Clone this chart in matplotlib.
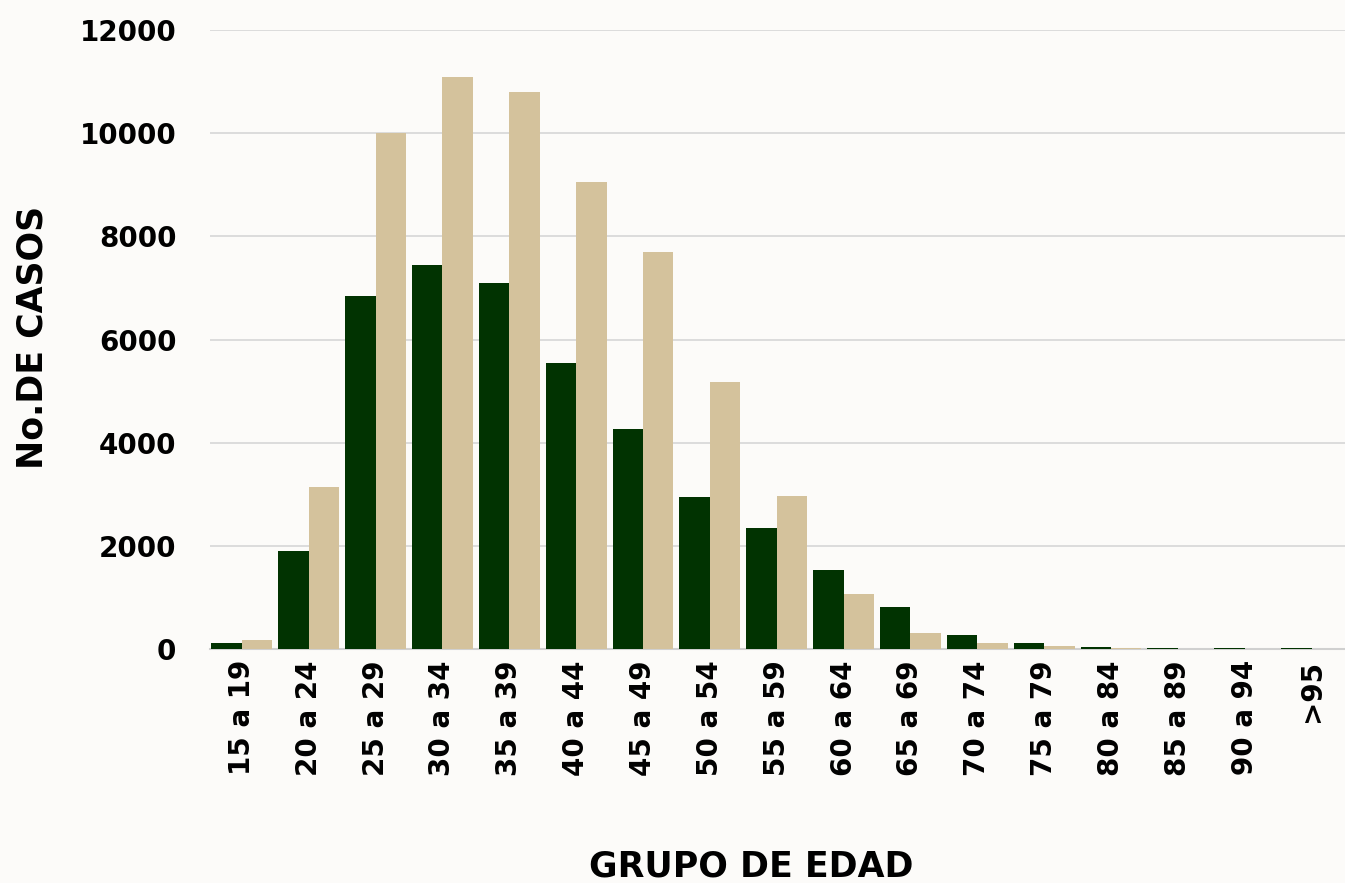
import numpy as np
import matplotlib

matplotlib.use("Agg")
import matplotlib.pyplot as plt

grupos = ["15 a 19", "20 a 24", "25 a 29", "30 a 34", "35 a 39", "40 a 44",
          "45 a 49", "50 a 54", "55 a 59", "60 a 64", "65 a 69", "70 a 74",
          "75 a 79", "80 a 84", "85 a 89", "90 a 94", ">95"]
serie_verde = [120, 1900, 6840, 7440, 7090, 5540, 4260, 2945, 2345, 1530,
               815, 270, 110, 45, 12, 12, 10]
serie_beige = [175, 3140, 10000, 11085, 10795, 9050, 7690, 5175, 2965, 1065,
               310, 115, 60, 18, 6, 6, 4]
yticks = [0, 2000, 4000, 6000, 8000, 10000, 12000]

VERDE = "#013301"
BEIGE = "#d4c29c"

plt.rcParams["font.family"] = ["DejaVu Sans"]

fig = plt.figure(figsize=(13.45, 8.83), dpi=100, facecolor="#fcfbf9")
ax = fig.add_axes([0.156, 0.265, 0.844, 0.701])
ax.set_facecolor("none")

x = np.arange(len(grupos))
w = 0.455
ax.bar(x - w / 2, serie_verde, width=w, color=VERDE, zorder=3)
ax.bar(x + w / 2, serie_beige, width=w, color=BEIGE, zorder=3)

ax.set_xlim(-0.48, len(grupos) - 0.5)
ax.set_ylim(0, 12000)
ax.set_yticks(yticks)
ax.set_yticklabels([str(v) for v in yticks], fontsize=20, fontweight="bold")
ax.set_xticks(x)
ax.set_xticklabels(grupos, rotation=90, fontsize=20, fontweight="bold",
                   va="top", ha="center")
ax.tick_params(axis="both", length=0)
ax.tick_params(axis="y", pad=24)
ax.tick_params(axis="x", pad=8)

ax.grid(axis="y", color="#d9d9d9", lw=1.3, zorder=0)
for s in ["top", "right", "left"]:
    ax.spines[s].set_visible(False)
ax.spines["bottom"].set_color("#d0d0d0")
ax.spines["bottom"].set_linewidth(1.5)

fig.text(0.0245, 0.618, "No.DE CASOS", fontsize=25, fontweight="bold",
         rotation=90, ha="center", va="center")
fig.text(0.5587, 0.019, "GRUPO DE EDAD", fontsize=25, fontweight="bold",
         ha="center", va="center")

fig.savefig("out.png", dpi=100, facecolor=fig.get_facecolor())
